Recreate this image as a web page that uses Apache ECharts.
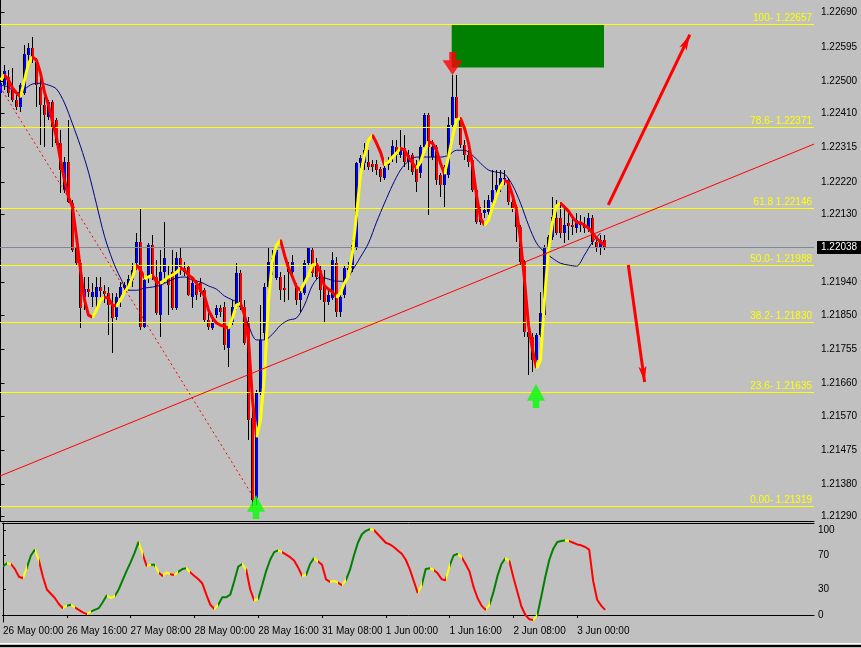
<!DOCTYPE html>
<html><head><meta charset="utf-8">
<script src="https://cdn.jsdelivr.net/npm/echarts@6/dist/echarts.min.js"></script>
<style>html,body{margin:0;padding:0;background:#c0c0c0;overflow:hidden}#c{width:861px;height:648px}</style>
</head><body><div id="c"></div>
<script>
// ---------- DATA (EURUSD H1) ----------
const timeLabels = ["26 May 00:00","26 May 16:00","27 May 08:00","28 May 00:00","28 May 16:00","31 May 08:00","1 Jun 00:00","1 Jun 16:00","2 Jun 08:00","3 Jun 00:00"];
const timeLabelIdx = [0,16,32,48,64,80,96,112,128,144];

const openP = [1.22467,1.22489,1.22511,1.22475,1.22447,1.22428,1.22467,1.22572,1.22592,1.22553,
1.22483,1.22433,1.22400,1.22442,1.22392,1.22328,1.22197,1.22275,1.22161,1.22036,
1.21994,1.21900,1.21922,1.21900,1.21900,1.21928,1.21917,1.21911,1.21878,1.21844,
1.21897,1.21925,1.21928,1.21947,1.21994,1.22053,1.21817,1.21953,1.22044,1.21956,
1.21850,1.21969,1.21956,1.21969,1.21869,1.22008,1.21981,1.21983,1.21900,1.21933,
1.21939,1.21919,1.21836,1.21814,1.21850,1.21869,1.21872,1.21758,1.21831,1.21872,
1.21967,1.21872,1.21828,1.21564,1.21342,1.21636,1.21800,1.21928,1.21983,1.21953,
1.21956,1.21925,1.21981,1.21969,1.21928,1.21892,1.21911,1.21994,1.22031,1.21994,
1.21975,1.21933,1.21886,1.21897,1.21994,1.21858,1.21906,1.21981,1.21981,1.22039,
1.22272,1.22272,1.22275,1.22269,1.22269,1.22256,1.22231,1.22267,1.22289,1.22317,
1.22294,1.22314,1.22275,1.22294,1.22267,1.22244,1.22317,1.22406,1.22289,1.22317,
1.22239,1.22211,1.22239,1.22378,1.22456,1.22392,1.22322,1.22294,1.22281,1.22197,
1.22108,1.22133,1.22136,1.22164,1.22197,1.22206,1.22225,1.22225,1.22164,1.22150,
1.22094,1.21997,1.21803,1.21789,1.21725,1.21794,1.21850,1.22022,1.22067,1.22119,
1.22119,1.22078,1.22106,1.22100,1.22092,1.22100,1.22100,1.22092,1.22119,1.22053,
1.22036,1.22058];
const closeP = [1.22494,1.22528,1.22467,1.22447,1.22428,1.22489,1.22575,1.22592,1.22564,1.22489,
1.22433,1.22406,1.22442,1.22372,1.22328,1.22253,1.22275,1.22164,1.22031,1.21994,
1.21869,1.21922,1.21914,1.21914,1.21928,1.21917,1.21908,1.21878,1.21842,1.21900,
1.21928,1.21933,1.21950,1.21975,1.22053,1.21817,1.21947,1.22044,1.21956,1.21856,
1.21969,1.22008,1.21933,1.21869,1.22008,1.21981,1.21969,1.21906,1.21939,1.21906,
1.21914,1.21836,1.21817,1.21831,1.21869,1.21858,1.21767,1.21814,1.21872,1.21967,
1.21872,1.21772,1.21558,1.21336,1.21636,1.21781,1.21928,1.21997,1.22008,1.22031,
1.21919,1.21919,1.21969,1.21997,1.21892,1.21911,1.21994,1.22036,1.21967,1.21956,
1.21919,1.21886,1.21906,1.22003,1.21858,1.21900,1.21981,1.21975,1.22044,1.22272,
1.22286,1.22308,1.22261,1.22261,1.22253,1.22233,1.22258,1.22272,1.22319,1.22294,
1.22314,1.22275,1.22294,1.22247,1.22219,1.22317,1.22406,1.22317,1.22317,1.22225,
1.22211,1.22261,1.22378,1.22456,1.22397,1.22322,1.22294,1.22275,1.22197,1.22108,
1.22133,1.22142,1.22169,1.22197,1.22211,1.22231,1.22231,1.22164,1.22147,1.22094,
1.21997,1.21803,1.21789,1.21725,1.21794,1.21856,1.22039,1.22067,1.22122,1.22078,
1.22078,1.22100,1.22097,1.22094,1.22114,1.22103,1.22092,1.22119,1.22053,1.22036,
1.22058,1.22038];
const lowP = [1.22414,1.22475,1.22456,1.22442,1.22419,1.22414,1.22461,1.22539,1.22550,1.22428,
1.22322,1.22317,1.22392,1.22317,1.22322,1.22189,1.22189,1.22161,1.22025,1.21989,
1.21814,1.21864,1.21900,1.21872,1.21872,1.21900,1.21883,1.21794,1.21744,1.21836,
1.21872,1.21911,1.21919,1.21928,1.21975,1.21808,1.21814,1.21939,1.21947,1.21850,
1.21789,1.21939,1.21850,1.21864,1.21864,1.21961,1.21958,1.21903,1.21869,1.21892,
1.21900,1.21831,1.21808,1.21808,1.21842,1.21844,1.21753,1.21706,1.21822,1.21864,
1.21864,1.21767,1.21503,1.21319,1.21322,1.21628,1.21781,1.21919,1.21961,1.21947,
1.21892,1.21886,1.21892,1.21947,1.21878,1.21856,1.21906,1.21989,1.21956,1.21947,
1.21892,1.21828,1.21878,1.21892,1.21844,1.21844,1.21897,1.21967,1.21969,1.22031,
1.22258,1.22253,1.22253,1.22247,1.22239,1.22219,1.22225,1.22253,1.22275,1.22272,
1.22286,1.22261,1.22253,1.22239,1.22192,1.22231,1.22308,1.22128,1.22281,1.22211,
1.22178,1.22150,1.22231,1.22369,1.22392,1.22314,1.22281,1.22261,1.22192,1.22103,
1.22100,1.22119,1.22128,1.22150,1.22178,1.22192,1.22211,1.22156,1.22136,1.22053,
1.21989,1.21789,1.21683,1.21692,1.21703,1.21789,1.21842,1.22011,1.22058,1.22072,
1.22064,1.22050,1.22058,1.22072,1.22078,1.22081,1.22078,1.22081,1.22044,1.22025,
1.22017,1.22031];
const highP = [1.22553,1.22544,1.22531,1.22536,1.22461,1.22494,1.22600,1.22606,1.22622,1.22564,
1.22531,1.22456,1.22447,1.22447,1.22397,1.22364,1.22289,1.22392,1.22169,1.22039,
1.22003,1.21956,1.21956,1.21939,1.21956,1.21956,1.21933,1.21928,1.21911,1.21911,
1.21942,1.21942,1.21961,1.21994,1.22078,1.22147,1.21953,1.22050,1.22072,1.22003,
1.22031,1.22108,1.21989,1.22031,1.22025,1.22039,1.21997,1.21989,1.21947,1.21947,
1.21953,1.21925,1.21856,1.21850,1.21878,1.21878,1.21886,1.21817,1.21892,1.21994,
1.21975,1.21892,1.21844,1.21614,1.21642,1.21878,1.21939,1.22036,1.22031,1.22044,
1.21969,1.21961,1.21997,1.22017,1.21939,1.21919,1.22003,1.22039,1.22036,1.22008,
1.21989,1.21975,1.21919,1.22025,1.22011,1.21911,1.21989,1.21997,1.22058,1.22275,
1.22294,1.22328,1.22308,1.22281,1.22281,1.22261,1.22267,1.22289,1.22336,1.22336,
1.22364,1.22350,1.22308,1.22300,1.22281,1.22322,1.22411,1.22411,1.22336,1.22322,
1.22244,1.22267,1.22400,1.22517,1.22517,1.22400,1.22336,1.22308,1.22286,1.22203,
1.22150,1.22169,1.22183,1.22253,1.22253,1.22253,1.22253,1.22231,1.22175,1.22156,
1.22100,1.22003,1.21808,1.21800,1.21800,1.21914,1.22044,1.22072,1.22178,1.22169,
1.22164,1.22147,1.22142,1.22128,1.22133,1.22128,1.22122,1.22133,1.22128,1.22067,
1.22072,1.22072];

// smoothed trend line (yellow rising / red falling), one value per candle
const hmaVals = [1.22503,1.22517,1.22503,1.22481,1.22467,1.22456,1.22503,1.22550,1.22567,1.22558,
1.22522,1.22469,1.22433,1.22386,1.22344,1.22281,1.22225,1.22178,1.22150,1.22067,
1.21975,1.21892,1.21850,1.21844,1.21864,1.21892,1.21900,1.21897,1.21878,1.21875,
1.21892,1.21914,1.21928,1.21956,1.21989,1.21975,1.21953,1.21956,1.21961,1.21942,
1.21939,1.21947,1.21956,1.21961,1.21969,1.21981,1.21975,1.21961,1.21953,1.21939,
1.21919,1.21903,1.21864,1.21842,1.21828,1.21822,1.21819,1.21814,1.21842,1.21878,
1.21883,1.21850,1.21781,1.21614,1.21511,1.21558,1.21683,1.21892,1.22003,1.22044,
1.22058,1.22017,1.21981,1.21956,1.21928,1.21919,1.21939,1.21961,1.21989,1.21992,
1.21969,1.21931,1.21922,1.21914,1.21900,1.21911,1.21939,1.21958,1.22025,1.22128,
1.22239,1.22294,1.22336,1.22350,1.22328,1.22303,1.22267,1.22275,1.22289,1.22300,
1.22314,1.22308,1.22289,1.22272,1.22258,1.22275,1.22308,1.22331,1.22328,1.22308,
1.22272,1.22242,1.22289,1.22344,1.22392,1.22397,1.22369,1.22328,1.22267,1.22183,
1.22119,1.22100,1.22114,1.22150,1.22181,1.22208,1.22225,1.22217,1.22183,1.22142,
1.22058,1.21947,1.21822,1.21753,1.21703,1.21725,1.21892,1.22031,1.22108,1.22153,
1.22161,1.22150,1.22139,1.22122,1.22108,1.22106,1.22100,1.22092,1.22078,1.22064,
1.22053,1.22044];

// navy moving average, read every 2nd candle
const maStep = 2;
const maVals = [1.22489,1.22483,1.22467,1.22478,1.22492,1.22494,1.22489,1.22478,1.22439,1.22381,
1.22319,1.22247,1.22158,1.22069,1.22003,1.21953,1.21919,1.21919,1.21925,1.21928,
1.21933,1.21944,1.21953,1.21956,1.21947,1.21942,1.21931,1.21922,1.21903,1.21892,
1.21881,1.21822,1.21781,1.21781,1.21797,1.21822,1.21836,1.21842,1.21878,1.21933,
1.21956,1.21950,1.21944,1.21944,1.21975,1.22011,1.22050,1.22108,1.22161,1.22211,
1.22253,1.22278,1.22289,1.22289,1.22289,1.22289,1.22294,1.22308,1.22308,1.22294,
1.22272,1.22253,1.22247,1.22242,1.22211,1.22161,1.22100,1.22050,1.22025,1.22008,
1.21994,1.21989,1.21986,1.22017,1.22053,1.22078];

// oscillator (0..100), one value per candle
const oscVals = [57,61,60,54,45,43,56,70,77,64,
45,30,25,20,13,8,11,12,9,6,
3,1,4,6,8,15,23,20,22,30,
41,52,62,73,86,72,58,59,59,50,
46,50,48,47,51,54,55,50,46,42,
37,24,12,7,12,21,21,24,40,57,
60,53,30,17,19,35,52,65,74,76,
74,71,68,64,56,46,47,60,67,63,
59,42,39,40,38,35,41,53,70,85,
95,99,101,100,95,90,85,83,80,76,
72,65,54,40,26,35,54,55,53,49,
42,41,58,70,72,68,60,51,33,20,
11,6,12,27,46,60,67,63,44,27,
10,0,-5,-6,0,22,45,65,78,86,
87,88,87,85,83,82,80,77,40,18,
11,6];

const priceTicks = [1.22690,1.22595,1.22500,1.22410,1.22315,1.22220,1.22130,1.21940,1.21850,1.21755,1.21660,1.21570,1.21475,1.21380,1.21290];
const oscTicks = [0,30,70,100];
const lastPrice = 1.22038;

// Fibonacci retracement levels
const fibValues = [1.22657,1.22371,1.22146,1.21988,1.21830,1.21635,1.21319];
const fibTexts = ["100- 1.22657","78.6- 1.22371","61.8 1.22146","50.0- 1.21988","38.2- 1.21830","23.6- 1.21635","0.00- 1.21319"];

// hand-drawn objects, [candle index, price]
const trendLine = [[-0.125,1.21403],[203.375,1.22325]];
const dottedLine = [[-0.125,1.22484],[63.375,1.21342]];
const arrowUp = [[151.95,1.22156],[172.34,1.22629]];
const arrowDown = [[156.95,1.21989],[161.03,1.21664]];
const boxArea = [[112.8,1.22658],[150.875,1.22538]];
const sellSignal = [[113.0,1.22549]];
const buySignals = [[63.875,1.21317],[133.875,1.21625]];

// ---------- CHART ----------
const FONT = "'Liberation Sans',Arial,sans-serif";
const FS = 10;
const X_MIN = -0.125, X_MAX = 203.375;
const Y_MIN = 1.21278056, Y_MAX = 1.22725278;

const candleData = openP.map((o,i)=>[i,o,closeP[i],lowP[i],highP[i]]);
const hmaData = hmaVals.map((v,i)=>[i,v]);
const maData = maVals.map((v,k)=>[k*maStep,v]);
const oscData = oscVals.map((v,i)=>[i,v]);
const levelData = fibValues.map((v,i)=>[X_MIN,v,i]).concat([[X_MIN,lastPrice,-1]]);

function piecesFromColors(n, colorAt){
  const p=[];
  for(let i=0;i<n-1;i++){
    const col=colorAt(i); const last=p[p.length-1];
    if(last && last.color===col){ last.lt=i+1; } else p.push({gte:i,lt:i+1,color:col});
  }
  p[p.length-1].lt = n+1;
  return p;
}
const hmaPieces = piecesFromColors(hmaVals.length, i => hmaVals[i+1]>=hmaVals[i] ? '#ffff00' : '#ff0000');
let prevDir=null; const oscCols=[];
for(let i=0;i<oscVals.length-1;i++){
  const d = oscVals[i+1]>=oscVals[i] ? 1 : -1;
  oscCols.push(prevDir!==null && d!==prevDir ? '#ffff00' : (d>0 ? '#008000' : '#ff0000'));
  prevDir=d;
}
const oscPieces = piecesFromColors(oscVals.length, i => oscCols[i]);

function renderCandle(params, api){
  const j=api.value(0), o=api.value(1), c=api.value(2), lo=api.value(3), hi=api.value(4);
  const pO=api.coord([j,o]), pC=api.coord([j,c]), pL=api.coord([j,lo]), pH=api.coord([j,hi]);
  const x=Math.floor(pO[0])+0.5;
  const top=Math.round(Math.min(pO[1],pC[1]));
  const h=Math.max(Math.round(Math.abs(pO[1]-pC[1])),1);
  return {type:'group', children:[
    {type:'line', shape:{x1:x,y1:Math.round(pH[1]),x2:x,y2:Math.round(pL[1])}, style:{stroke:'#000',lineWidth:1}},
    {type:'rect', shape:{x:x-1.5,y:top,width:3,height:h}, style:{fill: c>=o?'#0000ff':'#ff0000'}},
    {type:'line', shape:{x1:x-1,y1:top,x2:x-1,y2:top+h}, style:{stroke:'#000',lineWidth:1}}
  ]};
}

function renderLevel(params, api){
  const v=api.value(1), k=api.value(2);
  const cs=params.coordSys;
  const y=Math.floor(api.coord([X_MIN,v])[1])+0.5;
  const x1=cs.x, x2=cs.x+cs.width;
  if(k<0){
    return {type:'group',children:[
      {type:'line',shape:{x1:x1,y1:y,x2:x2,y2:y},style:{stroke:'#7d8894',lineWidth:1}},
      {type:'text',style:{text:v.toFixed(5),x:x2+3,y:y,align:'left',verticalAlign:'middle',fill:'#ffffff',
        backgroundColor:'#000000',padding:[2,4,1,4],font:FS+'px '+FONT}}
    ]};
  }
  return {type:'group',children:[
    {type:'line',shape:{x1:x1,y1:y,x2:x2,y2:y},style:{stroke:'#ffff00',lineWidth:1}},
    {type:'text',style:{text:fibTexts[k],x:x2-2,y:y-1,align:'right',verticalAlign:'bottom',fill:'#ffff00',font:FS+'px '+FONT}}
  ]};
}

const pathDown='path://M6.6,0H13.3V8.3H19.6L9.8,23L0,8.3H6.6Z';
const pathUp='path://M9,0L18,16.7H12.3V24H5.7V16.7H0Z';

const lineObj = (pts, style, endSym) => [
  {coord:pts[0], symbol:'none', lineStyle:style, label:{show:false}},
  {coord:pts[1], symbol:endSym||'none', symbolSize:[6,16]}
];
const markLines = [
  lineObj(trendLine,{color:'#ff0000',width:1,type:'solid'}),
  lineObj(dottedLine,{color:'#ff0000',width:1,type:[2,3]}),
  lineObj(arrowUp,{color:'#ff0000',width:3,type:'solid'},'arrow'),
  lineObj(arrowDown,{color:'#ff0000',width:3,type:'solid'},'arrow')
];

const axisTxt = {color:'#000',fontSize:FS,fontFamily:FONT};

const option = {
  animation:false,
  backgroundColor:'#c0c0c0',
  grid:[
    {left:0,top:0,width:814,height:521},
    {left:0,top:523,width:814,height:99}
  ],
  xAxis:[
    {type:'value',gridIndex:0,min:X_MIN,max:X_MAX,axisLine:{show:true,lineStyle:{color:'#000'}},axisTick:{show:false},axisLabel:{show:false},splitLine:{show:false}},
    {type:'value',gridIndex:1,min:X_MIN,max:X_MAX,position:'bottom',axisLine:{show:true,lineStyle:{color:'#000'}},
      axisTick:{show:true,length:3,customValues:timeLabelIdx,lineStyle:{color:'#000'}},
      axisLabel:Object.assign({show:true,customValues:timeLabelIdx,align:'left',margin:4,showMinLabel:true,hideOverlap:false,
        formatter:v=>timeLabels[timeLabelIdx.indexOf(Math.round(v))]||''},axisTxt),
      splitLine:{show:false}},
    {type:'value',gridIndex:1,min:X_MIN,max:X_MAX,position:'top',axisLine:{show:true,lineStyle:{color:'#000'}},axisTick:{show:false},axisLabel:{show:false},splitLine:{show:false}}
  ],
  yAxis:[
    {type:'value',gridIndex:0,position:'right',min:Y_MIN,max:Y_MAX,scale:true,
      axisLine:{show:true,lineStyle:{color:'#000'}},
      axisTick:{show:true,length:4,customValues:priceTicks,lineStyle:{color:'#000'}},
      axisLabel:Object.assign({show:true,customValues:priceTicks,margin:7,formatter:v=>v.toFixed(5)},axisTxt),
      splitLine:{show:false}},
    {type:'value',gridIndex:1,position:'right',min:-8.24,max:108.24,
      axisLine:{show:true,lineStyle:{color:'#000'}},
      axisTick:{show:true,length:3,customValues:oscTicks,lineStyle:{color:'#000'}},
      axisLabel:Object.assign({show:true,customValues:oscTicks,margin:4},axisTxt),
      splitLine:{show:false}}
  ],
  visualMap:[
    {type:'piecewise',show:false,dimension:0,seriesIndex:2,pieces:hmaPieces},
    {type:'piecewise',show:false,dimension:0,seriesIndex:4,pieces:oscPieces}
  ],
  series:[
    {type:'custom',name:'candles',xAxisIndex:0,yAxisIndex:0,renderItem:renderCandle,data:candleData,
      encode:{x:0,y:[1,2,3,4]},clip:true,z:2,silent:true},
    {type:'line',name:'ma',xAxisIndex:0,yAxisIndex:0,data:maData,smooth:0.3,showSymbol:false,symbol:'none',
      lineStyle:{color:'#000080',width:1},z:3,silent:true,clip:true,
      markLine:{silent:true,symbol:['none','none'],animation:false,data:markLines,emphasis:{disabled:true}},
      markArea:{silent:true,data:[[{coord:boxArea[0],itemStyle:{color:'#008000',opacity:1}},{coord:boxArea[1]}]]}},
    {type:'line',name:'trend',xAxisIndex:0,yAxisIndex:0,data:hmaData,showSymbol:false,symbol:'none',
      lineStyle:{width:3},z:4,silent:true,clip:true},
    {type:'scatter',name:'signals',xAxisIndex:0,yAxisIndex:0,z:6,silent:true,
      data:[
        ...sellSignal.map(p=>({value:p,symbol:pathDown,symbolSize:[20,23],itemStyle:{color:'#ff0000'}})),
        ...buySignals.map(p=>({value:p,symbol:pathUp,symbolSize:[18,24],itemStyle:{color:'#00ff00'}}))
      ]},
    {type:'line',name:'osc',xAxisIndex:1,yAxisIndex:1,data:oscData,showSymbol:false,symbol:'none',
      lineStyle:{width:2},z:4,silent:true,clip:true},
    {type:'custom',name:'levels',xAxisIndex:0,yAxisIndex:0,renderItem:renderLevel,data:levelData,
      encode:{x:0,y:1},clip:false,z:3,silent:true}
  ],
  graphic:[
    {type:'rect',shape:{x:0,y:643,width:861,height:1},style:{fill:'#ffffff'},silent:true},
    {type:'rect',shape:{x:0,y:645,width:861,height:2},style:{fill:'#000000'},silent:true}
  ]
};
const chart = echarts.init(document.getElementById('c'),null,{renderer:'canvas'});
chart.setOption(option);
</script></body></html>
